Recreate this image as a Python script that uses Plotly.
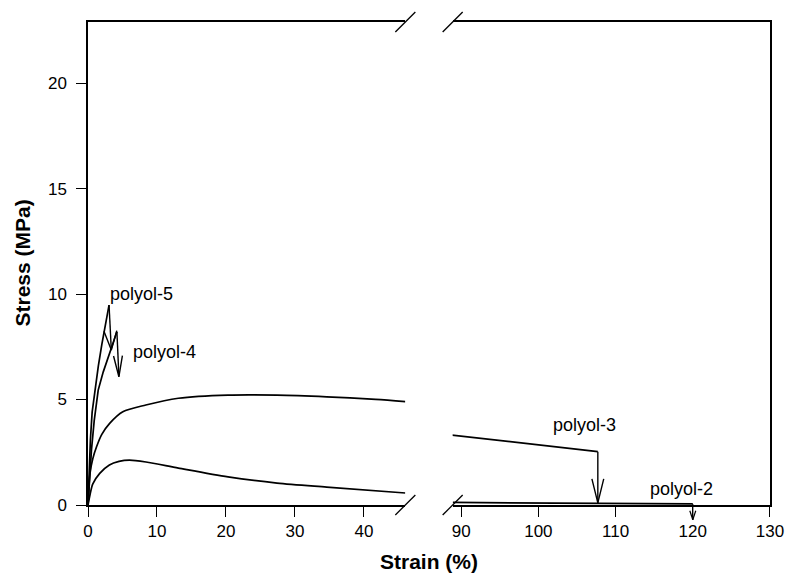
import plotly.graph_objects as go

# ---------------- data ----------------
polyol5_strain = [0, 0.15, 0.35, 0.6, 1.0, 1.5, 2.0, 2.5, 3.05]
polyol5_stress = [0, 1.6, 3.1, 4.4, 5.45, 6.6, 7.6, 8.6, 9.48]
polyol5_break = (3.38, 7.35)

polyol4_strain = [0, 0.2, 0.5, 0.9, 1.48, 2.2, 3.0, 3.6, 4.19]
polyol4_stress = [0, 1.2, 2.6, 4.0, 5.45, 6.3, 7.1, 7.6, 8.21]
polyol4_break = (4.48, 6.08)

polyol3_strain_left = [0, 0.29, 0.7, 1.24, 2.0, 3.14, 5.05, 8.38, 13.1, 20.3, 27.4, 34.6, 41.7, 46]
polyol3_stress_left = [0, 1.5, 2.2, 2.76, 3.35, 3.87, 4.42, 4.74, 5.06, 5.21, 5.21, 5.13, 5.01, 4.9]
polyol3_strain_right = [88.7, 107.7]
polyol3_stress_right = [3.32, 2.53]
polyol3_break = (107.7, 0.1)

polyol2_strain_left = [0, 0.3, 0.7, 1.7, 3.1, 4.5, 6.0, 8.4, 13.1, 20.3, 27.4, 34.6, 46]
polyol2_stress_left = [0, 0.5, 1.0, 1.5, 1.9, 2.07, 2.13, 2.04, 1.75, 1.33, 1.04, 0.85, 0.57]
polyol2_strain_right = [88.9, 100, 110, 120]
polyol2_stress_right = [0.12, 0.1, 0.07, 0.05]
polyol2_break = (120, -0.7)

labels = ["polyol-5", "polyol-4", "polyol-3", "polyol-2"]
label_pos = [(7.7, 10.0, 1), (11.1, 7.25, 1), (106.0, 3.8, 2), (118.6, 0.75, 2)]

x1_ticks = [0, 10, 20, 30, 40]
x2_ticks = [90, 100, 110, 120, 130]
y_ticks = [0, 5, 10, 15, 20]

# ---------------- layout constants ----------------
# the page body has an 8px default margin; the figure is sized to compensate
OFF = 8
W, H = 796 - OFF, 584 - OFF
ML, MR, MT, MB = 88 - OFF, 16, 22 - OFF, 79
x1_range = [0, 46]
x2_range = [88.9, 130]
y_range = [0, 22.9]
x1_dom = [0, 0.4653]
x2_dom = [0.5347, 1]
PW = W - ML - MR
PH = H - MT - MB

FONT = "Liberation Sans, Arial, sans-serif"
LINE = dict(color="black", width=1.7)


def px_per(axis):
    if axis == 1:
        return PW * (x1_dom[1] - x1_dom[0]) / (x1_range[1] - x1_range[0])
    return PW * (x2_dom[1] - x2_dom[0]) / (x2_range[1] - x2_range[0])


PY = PH / (y_range[1] - y_range[0])


def arrow(x0, y0, x1, y1, axis, head_len, head_half):
    sx = px_per(axis)
    dx = (x1 - x0) * sx
    dy = (y1 - y0) * PY
    n = (dx * dx + dy * dy) ** 0.5
    ux, uy = dx / n, dy / n
    px, py = -uy, ux
    bx = x1 - (ux * head_len) / sx
    by = y1 - (uy * head_len) / PY
    lx = bx + px * head_half / sx
    ly = by + py * head_half / PY
    rx = bx - px * head_half / sx
    ry = by - py * head_half / PY
    return [x0, x1, None, lx, x1, rx], [y0, y1, None, ly, y1, ry]


fig = go.Figure()

for xs, ys, shp in [(polyol5_strain, polyol5_stress, "linear"), (polyol4_strain, polyol4_stress, "linear"),
                    (polyol3_strain_left, polyol3_stress_left, "spline"),
                    (polyol2_strain_left, polyol2_stress_left, "spline")]:
    fig.add_trace(go.Scatter(x=xs, y=ys, mode="lines", line=dict(LINE, shape=shp, smoothing=0.8),
                             xaxis="x", yaxis="y", showlegend=False, hoverinfo="skip"))
for xs, ys in [(polyol3_strain_right, polyol3_stress_right), (polyol2_strain_right, polyol2_stress_right)]:
    fig.add_trace(go.Scatter(x=xs, y=ys, mode="lines", line=LINE, xaxis="x2", yaxis="y2",
                             showlegend=False, hoverinfo="skip"))

ax5 = arrow(polyol5_strain[-1], polyol5_stress[-1], *polyol5_break, 1, 19, 6.5)
ax4 = arrow(polyol4_strain[-1], polyol4_stress[-1], *polyol4_break, 1, 21, 4.5)
ax3 = arrow(polyol3_strain_right[-1], polyol3_stress_right[-1], *polyol3_break, 2, 24, 6)
for (xs, ys), xa, ya in [(ax5, "x", "y"), (ax4, "x", "y"), (ax3, "x2", "y2")]:
    fig.add_trace(go.Scatter(x=xs, y=ys, mode="lines", line=dict(color="black", width=1.4),
                             xaxis=xa, yaxis=ya, showlegend=False, hoverinfo="skip"))


# polyol-2 arrow goes below the axis: unclipped shape (x in data, y in paper)
def ypaper(v):
    return (v - y_range[0]) / (y_range[1] - y_range[0])


a2x, a2y = arrow(polyol2_strain_right[-1], polyol2_stress_right[-1], *polyol2_break, 2, 9, 3)
for i, j in [(0, 1), (3, 4), (4, 5)]:
    fig.add_shape(type="line", xref="x2", yref="paper",
                  x0=a2x[i], y0=ypaper(a2y[i]), x1=a2x[j], y1=ypaper(a2y[j]),
                  line=dict(color="black", width=1.2))

for txt, (lx, ly, ax) in zip(labels, label_pos):
    fig.add_annotation(x=lx, y=ly, xref="x" if ax == 1 else "x2", yref="y" if ax == 1 else "y2",
                       text=txt, showarrow=False, font=dict(family=FONT, size=18, color="black"))

# break slashes
for xd in [x1_dom[1], x2_dom[0]]:
    for yd in [0, 1]:
        fig.add_shape(type="path", xref="paper", yref="paper", xsizemode="pixel", ysizemode="pixel",
                      xanchor=xd, yanchor=yd, path="M -10 -10 L 10 10",
                      line=dict(color="black", width=1.3))

axis_common = dict(showgrid=False, zeroline=False, showline=True, linecolor="black", linewidth=1.5,
                   ticks="outside", ticklen=10, tickwidth=1.3, tickcolor="black",
                   tickfont=dict(family=FONT, size=17, color="black"))

fig.update_layout(
    width=W, height=H,
    margin=dict(l=ML, r=MR, t=MT, b=MB),
    paper_bgcolor="white", plot_bgcolor="white",
    xaxis=dict(domain=x1_dom, range=x1_range, tickvals=x1_ticks, anchor="y", mirror=True, **axis_common),
    xaxis2=dict(domain=x2_dom, range=x2_range, tickvals=x2_ticks, anchor="y2", mirror=True, **axis_common),
    yaxis=dict(range=y_range, tickvals=y_ticks, anchor="x", ticklabelstandoff=6, **axis_common),
    yaxis2=dict(range=y_range, anchor="x2", side="right", showgrid=False, zeroline=False, showline=True,
                linecolor="black", linewidth=1.5, ticks="", showticklabels=False),
)

fig.add_annotation(x=0.5, y=0, xref="paper", yref="paper", yshift=-56, yanchor="middle", xanchor="center",
                   text="<b>Strain (%)</b>", showarrow=False, font=dict(family=FONT, size=21, color="black"))
fig.add_annotation(x=0, y=0.5, xref="paper", yref="paper", xshift=-66, xanchor="center", yanchor="middle",
                   textangle=-90, text="<b>Stress (MPa)</b>", showarrow=False,
                   font=dict(family=FONT, size=21, color="black"))

fig.write_html("out.html")
